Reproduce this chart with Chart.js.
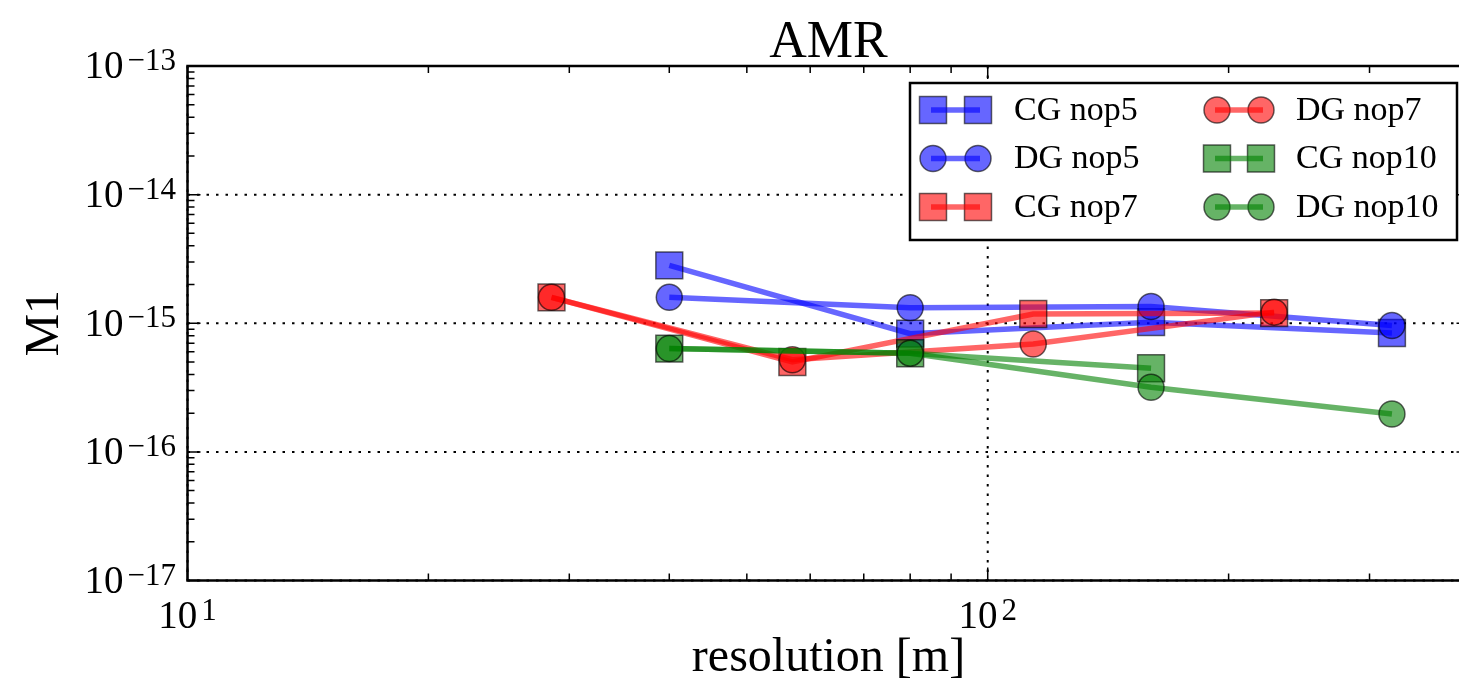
<!DOCTYPE html>
<html>
<head>
<meta charset="utf-8">
<title>AMR</title>
<script src="https://cdn.jsdelivr.net/npm/chart.js@4.4.1/dist/chart.umd.min.js"></script>
<style>
  html, body { margin: 0; padding: 0; background: #fff; overflow: hidden; }
  #wrap { width: 1459px; height: 685px; overflow: hidden; position: relative; }
  canvas { position: absolute; left: 0; top: 0; }
</style>
</head>
<body>
<div id="wrap"><canvas id="amrChart" width="1490" height="685"></canvas></div>
<script>
// resolutions [m]
var resNop5 = [40, 80, 160, 320];
var resNop7 = [28.5, 57, 114, 228];
var resCgNop10 = [40, 80, 160];
var resDgNop10 = [40, 80, 160, 320];

// M1 values
var cgNop5 = [2.82e-15, 8.3e-16, 1.02e-15, 8.4e-16];
var dgNop5 = [1.59e-15, 1.32e-15, 1.35e-15, 9.6e-16];
var cgNop7 = [1.59e-15, 5.0e-16, 1.18e-15, 1.2e-15];
var dgNop7 = [1.59e-15, 5.2e-16, 6.9e-16, 1.22e-15];
var cgNop10 = [6.35e-16, 5.85e-16, 4.47e-16];
var dgNop10 = [6.35e-16, 5.85e-16, 3.18e-16, 1.97e-16];

var seriesNames = ['CG nop5', 'DG nop5', 'CG nop7', 'DG nop7', 'CG nop10', 'DG nop10'];

// axis ticks
var xTicks = [10, 100];
var xTickExp = ['1', '2'];
var yTicks = [1e-17, 1e-16, 1e-15, 1e-14, 1e-13];
var yTickExp = ['\u221217', '\u221216', '\u221215', '\u221214', '\u221213'];

var SERIF = '"Liberation Serif", "DejaVu Serif", serif';

function rgba(c, a) { return 'rgba(' + c[0] + ',' + c[1] + ',' + c[2] + ',' + a + ')'; }
function pts(xs, ys) { return xs.map(function (x, i) { return { x: x, y: ys[i] }; }); }

var blue = [0, 0, 255], red = [255, 0, 0], green = [0, 128, 0];
var styles = [
  { c: blue, shape: 'rect' }, { c: blue, shape: 'circle' },
  { c: red, shape: 'rect' }, { c: red, shape: 'circle' },
  { c: green, shape: 'rect' }, { c: green, shape: 'circle' }
];
var seriesData = [
  pts(resNop5, cgNop5), pts(resNop5, dgNop5),
  pts(resNop7, cgNop7), pts(resNop7, dgNop7),
  pts(resCgNop10, cgNop10), pts(resDgNop10, dgNop10)
];

var datasets = seriesData.map(function (d, i) {
  var s = styles[i];
  var r = s.shape === 'rect' ? 19 : 13;
  return {
    label: seriesNames[i],
    data: d,
    showLine: true,
    tension: 0,
    borderColor: rgba(s.c, 0.6),
    borderWidth: 5.5,
    backgroundColor: rgba(s.c, 0.6),
    pointStyle: s.shape,
    pointRadius: r,
    pointHoverRadius: r,
    pointBackgroundColor: rgba(s.c, 0.6),
    pointBorderColor: 'rgba(0,0,0,0.6)',
    pointBorderWidth: 1.5,
    order: -i
  };
});

function drawMarker(ctx, shape, c, x, y) {
  ctx.save();
  ctx.fillStyle = rgba(c, 0.6);
  ctx.strokeStyle = 'rgba(0,0,0,0.6)';
  ctx.lineWidth = 1.5;
  ctx.beginPath();
  if (shape === 'rect') ctx.rect(x - 13.5, y - 13.5, 27, 27);
  else ctx.arc(x, y, 13, 0, Math.PI * 2);
  ctx.fill();
  ctx.stroke();
  ctx.restore();
}

function powLabel(ctx, exp, x, y, align) {
  ctx.save();
  ctx.fillStyle = '#000';
  ctx.font = '39px ' + SERIF;
  var bw = ctx.measureText('10').width;
  ctx.font = '31px ' + SERIF;
  var ew = ctx.measureText(exp).width;
  var gap = 4;
  var left = align === 'right' ? x - bw - ew - gap : x - (bw + ew + gap) / 2;
  ctx.textAlign = 'left';
  ctx.textBaseline = 'middle';
  ctx.font = '39px ' + SERIF;
  ctx.fillText('10', left, y);
  ctx.textBaseline = 'alphabetic';
  ctx.font = '31px ' + SERIF;
  ctx.fillText(exp, left + bw + gap, y + 2);
  ctx.restore();
}

var frame = {
  id: 'frame',
  beforeDatasetsDraw: function (chart) {
    var ctx = chart.ctx, a = chart.chartArea;
    var xs = chart.scales.x, ys = chart.scales.y;
    ctx.save();
    ctx.strokeStyle = '#000';
    ctx.lineWidth = 2;
    ctx.setLineDash([2.5, 7]);
    yTicks.forEach(function (v) {
      var py = ys.getPixelForValue(v);
      ctx.beginPath(); ctx.moveTo(a.left, py); ctx.lineTo(a.right, py); ctx.stroke();
    });
    xTicks.forEach(function (v) {
      var px = xs.getPixelForValue(v);
      ctx.beginPath(); ctx.moveTo(px, a.top); ctx.lineTo(px, a.bottom); ctx.stroke();
    });
    ctx.restore();
  },
  afterDraw: function (chart) {
    var ctx = chart.ctx, a = chart.chartArea;
    var xs = chart.scales.x, ys = chart.scales.y;
    ctx.save();
    ctx.strokeStyle = '#000';

    // minor / major ticks, pointing inward
    ctx.lineWidth = 1.5;
    for (var e = -17; e < -13; e++) {
      for (var m = 1; m <= 9; m++) {
        var py = ys.getPixelForValue(m * Math.pow(10, e));
        var len = m === 1 ? 13 : 7;
        ctx.beginPath();
        ctx.moveTo(a.left, py); ctx.lineTo(a.left + len, py);
        ctx.moveTo(a.right, py); ctx.lineTo(a.right - len, py);
        ctx.stroke();
      }
    }
    for (var ex = 1; ex <= 2; ex++) {
      for (var mx = 1; mx <= 9; mx++) {
        var v = mx * Math.pow(10, ex);
        if (v > xs.max) break;
        var px = xs.getPixelForValue(v);
        var l2 = mx === 1 ? 13 : 7;
        ctx.beginPath();
        ctx.moveTo(px, a.bottom); ctx.lineTo(px, a.bottom - l2);
        ctx.moveTo(px, a.top); ctx.lineTo(px, a.top + l2);
        ctx.stroke();
      }
    }

    // axes box
    ctx.lineWidth = 2.5;
    ctx.strokeRect(a.left, a.top, a.right - a.left, a.bottom - a.top);

    // tick labels
    yTicks.forEach(function (v, i) {
      powLabel(ctx, yTickExp[i], 176, ys.getPixelForValue(v) + 2, 'right');
    });
    xTicks.forEach(function (v, i) {
      powLabel(ctx, xTickExp[i], xs.getPixelForValue(v), 618, 'center');
    });

    // title and axis labels
    ctx.fillStyle = '#000';
    ctx.textAlign = 'center';
    ctx.textBaseline = 'alphabetic';
    ctx.font = '52px ' + SERIF;
    ctx.fillText('AMR', (a.left + a.right) / 2, 57);
    ctx.font = '48px ' + SERIF;
    ctx.fillText('resolution [m]', (a.left + a.right) / 2, 671);
    ctx.save();
    ctx.translate(45, (a.top + a.bottom) / 2);
    ctx.rotate(-Math.PI / 2);
    ctx.textBaseline = 'middle';
    ctx.fillText('M1', 0, 0);
    ctx.restore();

    // legend
    ctx.fillStyle = '#fff';
    ctx.fillRect(910, 83, 547, 157);
    ctx.lineWidth = 2.5;
    ctx.strokeRect(910, 83, 547, 157);
    var cols = [{ m1: 933, m2: 978, tx: 1014 }, { m1: 1217, m2: 1261, tx: 1296 }];
    var rows = [110, 158.5, 207];
    seriesNames.forEach(function (name, i) {
      var col = cols[Math.floor(i / 3)], y = rows[i % 3], s = styles[i];
      drawMarker(ctx, s.shape, s.c, col.m1, y);
      drawMarker(ctx, s.shape, s.c, col.m2, y);
      ctx.strokeStyle = rgba(s.c, 0.6);
      ctx.lineWidth = 5.5;
      ctx.beginPath(); ctx.moveTo(col.m1 - 2, y); ctx.lineTo(col.m2 + 2, y); ctx.stroke();
      ctx.fillStyle = '#000';
      ctx.textAlign = 'left';
      ctx.textBaseline = 'middle';
      ctx.font = '34px ' + SERIF;
      ctx.fillText(name, col.tx, y + 1);
    });
    ctx.restore();
  }
};

new Chart(document.getElementById('amrChart').getContext('2d'), {
  type: 'scatter',
  data: { datasets: datasets },
  options: {
    responsive: false,
    animation: false,
    events: [],
    layout: { padding: { top: 66, right: 18, left: 0, bottom: 0 } },
    plugins: { legend: { display: false }, tooltip: { enabled: false }, title: { display: false } },
    scales: {
      x: {
        type: 'logarithmic', min: 10, max: 400,
        grid: { display: false }, border: { display: false }, ticks: { display: false },
        afterFit: function (s) { s.height = 104.5; }
      },
      y: {
        type: 'logarithmic', min: 1e-17, max: 1e-13,
        grid: { display: false }, border: { display: false }, ticks: { display: false },
        afterFit: function (s) { s.width = 187.5; }
      }
    }
  },
  plugins: [frame]
});
</script>
</body>
</html>
